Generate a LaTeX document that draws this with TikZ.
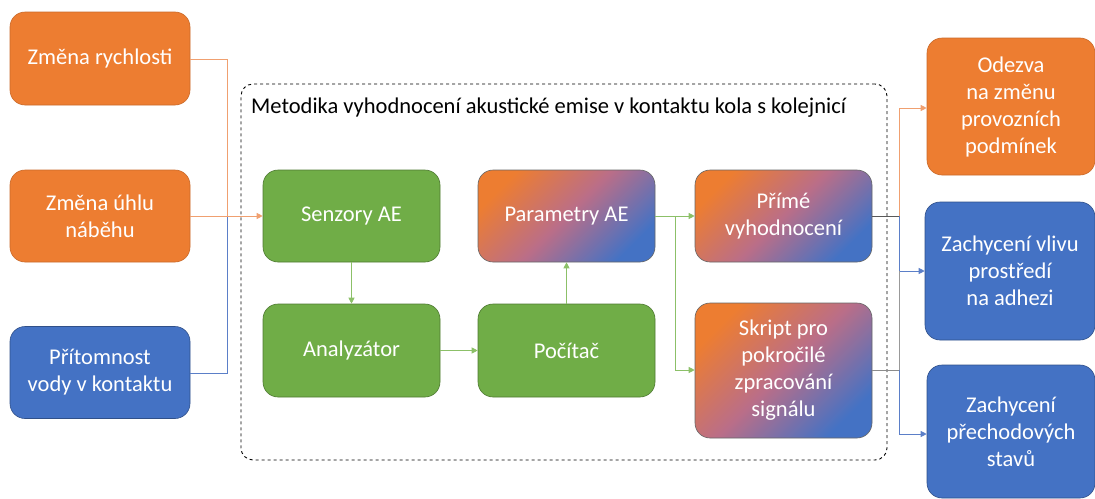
\documentclass[tikz,border=0pt]{standalone}
\usepackage{fontspec}
\setmainfont{Carlito}
\usetikzlibrary{arrows.meta}
\definecolor{oor}{HTML}{ED7D31}
\definecolor{obl}{HTML}{4472C4}
\definecolor{ogr}{HTML}{70AD47}
\definecolor{omid}{HTML}{BA6E88}
\definecolor{lor}{HTML}{F0A070}
\definecolor{lbl}{HTML}{5B7FC8}
\definecolor{lgr}{HTML}{8CC068}
\begin{document}
\begin{tikzpicture}[x=1pt,y=-1pt,
  box/.style={rounded corners=15pt,text=white,align=center,font=\fontsize{22.5}{27}\selectfont,inner sep=0pt},
  orbox/.style={box,fill=oor,draw=oor!85!black,line width=0.6pt},
  blbox/.style={box,fill=obl,draw=obl!70!black,line width=0.6pt},
  grbox/.style={box,fill=ogr,draw=ogr!70!black,line width=0.6pt},
  gradbox/.style={box,draw=black!60,line width=0.6pt,top color=oor,bottom color=obl,middle color=omid,shading angle=45},
  arr/.style={-{Triangle[length=6pt,width=6pt]},line width=0.9pt}
]
\useasboundingbox (0,0) rectangle (1095,498);
% left
\node[orbox,minimum width=180pt,minimum height=93pt] (r1) at (100,58.5) {Změna rychlosti};
\node[orbox,minimum width=180pt,minimum height=92pt] (r2) at (100,216) {Změna úhlu\\náběhu};
\node[blbox,minimum width=180pt,minimum height=92pt] (r3) at (100,372.5) {Přítomnost\\vody v kontaktu};
% dashed frame
\node[draw,dashed,rounded corners=12pt,line width=0.9pt,minimum width=646pt,minimum height=376pt,inner sep=0pt] (frame) at (564,272) {};
\node[font=\fontsize{22.5}{27}\selectfont,anchor=west,inner sep=0pt] (title) at (251,108) {Metodika vyhodnocení akustické emise v kontaktu kola s kolejnicí};
% middle
\node[grbox,minimum width=177pt,minimum height=92pt] (sen) at (351.5,216) {Senzory AE};
\node[grbox,minimum width=177pt,minimum height=93pt] (ana) at (351.5,350.5) {Analyzátor};
\node[grbox,minimum width=177pt,minimum height=93pt] (poc) at (566.5,350.5) {Počítač};
\node[gradbox,minimum width=177pt,minimum height=92pt] (par) at (566.5,216) {Parametry AE};
\node[gradbox,minimum width=177pt,minimum height=92pt] (pri) at (783.5,216) {Přímé\\vyhodnocení};
\node[gradbox,minimum width=177pt,minimum height=135pt] (skr) at (783.5,370.5) {Skript pro\\pokročilé\\zpracování\\signálu};
% right
\node[orbox,minimum width=168pt,minimum height=137pt] (ode) at (1011,106.5) {Odezva\\na změnu\\provozních\\podmínek};
\node[blbox,minimum width=170pt,minimum height=138pt] (vliv) at (1010,271) {Zachycení vlivu\\prostředí\\na adhezi};
\node[blbox,minimum width=168pt,minimum height=133pt] (pre) at (1011,431.5) {Zachycení\\přechodových\\stavů};
% coordinates
\coordinate (lj) at (227,216);
\coordinate (mj) at (675,216);
\coordinate (rj) at (899,216);
\coordinate (rj2) at (899,370);
% left connectors
\draw[lor,line width=0.9pt] (r1.east |- 0,59) -| (lj);
\draw[lbl,line width=0.9pt] (r3.east |- 0,373) -| (lj);
\draw[arr,lor] (r2.east) -- (sen.west);
% middle connectors
\draw[arr,lgr] (sen.south) -- (ana.north);
\draw[arr,lgr] (ana.east) -- (poc.west);
\draw[arr,lgr] (poc.north) -- (par.south);
\draw[arr,lgr] (par.east) -- (pri.west);
\draw[arr,lgr] (mj) |- (skr.west |- 0,370);
% right connectors
\draw[black!65,line width=0.9pt] (pri.east) -- (rj);
\draw[black!45,line width=0.9pt] (skr.east |- 0,370) -- (rj2);
\draw[arr,lor] (rj) |- (ode.west |- 0,108);
\draw[arr,lbl] (rj) |- (vliv.west);
\draw[black!40,line width=0.9pt] (vliv.west -| rj) -- (rj2);
\draw[arr,lbl] (rj2) |- (pre.west |- 0,434);
\end{tikzpicture}
\end{document}
